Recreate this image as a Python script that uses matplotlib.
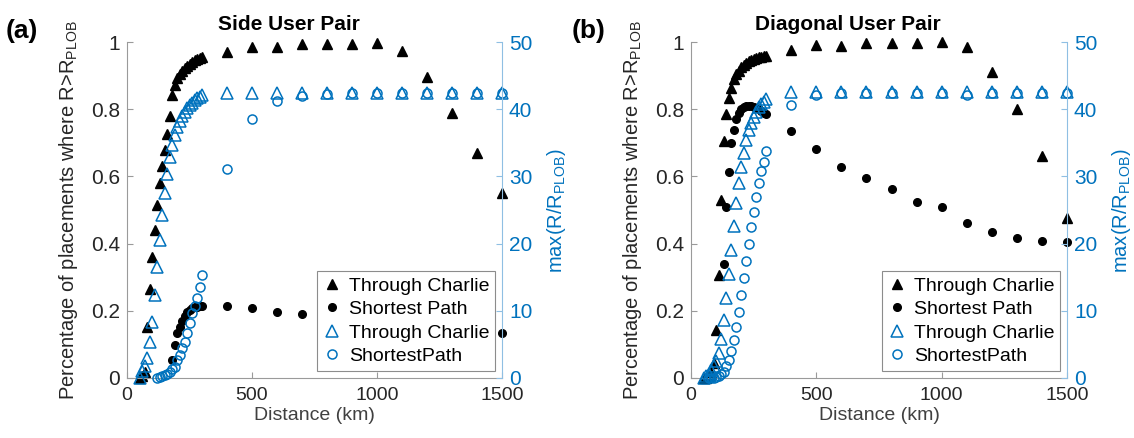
import numpy as np
import matplotlib
matplotlib.use('Agg')
import matplotlib.pyplot as plt

nan = np.nan

# ---------------- data ----------------
distance = [50, 60, 70, 80, 90, 100, 110, 120, 130, 140, 150, 160, 170, 180, 190,
            200, 210, 220, 230, 240, 250, 260, 270, 280, 290, 300,
            400, 500, 600, 700, 800, 900, 1000, 1100, 1200, 1300, 1400, 1500]

# panel (a) Side User Pair -- left axis (fraction)
a_charlie = [0.0, 0.005, 0.018, 0.15, 0.265, 0.36, 0.44, 0.515, 0.58, 0.63, 0.68, 0.727, 0.78,
             0.843, 0.873, 0.893, 0.905, 0.915, 0.924, 0.93, 0.936, 0.941, 0.946, 0.95, 0.953, 0.957,
             0.972, 0.987, 0.987, 0.995, 0.995, 0.995, 0.997, 0.975, 0.898, 0.79, 0.671, 0.55]
a_shortest = [nan, nan, nan, nan, nan, nan, nan, nan, nan, nan, nan, nan, nan,
              0.053, 0.097, 0.132, 0.152, 0.17, 0.185, 0.195, 0.202, 0.207, 0.21, 0.212, 0.213, 0.214,
              0.214, 0.209, 0.196, 0.19, nan, nan, nan, nan, nan, nan, nan, 0.134]
# panel (a) -- right axis max(R/R_PLOB)
a_charlie_max = [0.0, 1.0, 1.75, 2.9, 5.35, 8.35, 12.35, 16.45, 20.5, 24.25, 27.6, 30.35, 32.95,
                 34.7, 36.2, 37.4, 38.25, 39.0, 39.6, 40.15, 40.6, 41.0, 41.35, 41.65, 41.9, 42.15,
                 42.4, 42.4, 42.4, 42.4, 42.4, 42.4, 42.4, 42.4, 42.4, 42.4, 42.4, 42.4]
a_shortest_max = [nan, nan, nan, nan, nan, nan, nan, 0.0, 0.1, 0.25, 0.4, 0.6, 0.9,
                  1.25, 1.65, 2.65, 3.4, 4.4, 5.35, 6.6, 8.1, 9.6, 10.65, 11.85, 13.55, 15.3,
                  31.1, 38.6, 41.2, 42.0, 42.3, 42.4, 42.4, 42.4, 42.4, 42.4, 42.4, 42.4]

# panel (b) Diagonal User Pair -- left axis
b_charlie = [0.0, 0.0, 0.005, 0.015, 0.043, 0.142, 0.306, 0.53, 0.706, 0.787, 0.833, 0.863, 0.89,
             0.905, 0.915, 0.925, 0.932, 0.938, 0.943, 0.947, 0.95, 0.953, 0.955, 0.957, 0.958, 0.958,
             0.977, 0.992, 0.99, 0.999, 0.999, 0.999, 1.0, 0.986, 0.91, 0.80, 0.661, 0.475]
b_shortest = [nan, nan, nan, nan, nan, nan, nan, nan, 0.338, 0.51, 0.612, 0.70, 0.74,
              0.77, 0.79, 0.80, 0.806, 0.809, 0.81, 0.81, 0.808, 0.804, 0.80, 0.796, 0.79, 0.785,
              0.737, 0.682, 0.629, 0.596, 0.562, 0.524, 0.508, 0.462, 0.435, 0.418, 0.408, 0.404]
# panel (b) -- right axis
b_charlie_max = [0.0, 0.25, 0.6, 1.1, 1.75, 2.5, 3.65, 5.7, 8.6, 11.95, 15.4, 19.05, 22.6,
                 26.0, 29.0, 31.45, 33.45, 35.45, 36.95, 37.9, 38.9, 39.65, 40.3, 40.8, 41.15, 41.5,
                 42.6, 42.6, 42.6, 42.6, 42.6, 42.6, 42.6, 42.6, 42.6, 42.6, 42.6, 42.6]
b_shortest_max = [nan, nan, 0.0, 0.0, 0.0, 0.1, 0.25, 0.5, 0.9, 1.7, 2.7, 4.0, 5.65,
                  7.6, 9.8, 12.3, 14.9, 17.45, 20.0, 22.45, 24.75, 27.0, 29.0, 30.8, 32.2, 33.85,
                  40.7, 42.1, 42.4, 42.4, 42.4, 42.4, 42.4, 42.1, 42.4, 42.4, 42.4, 42.4]

legend_labels = ['Through Charlie', 'Shortest Path', 'Through Charlie', 'ShortestPath']
x_ticks = [0, 500, 1000, 1500]
left_ticks = [0, 0.2, 0.4, 0.6, 0.8, 1]
left_ticklabels = ['0', '0.2', '0.4', '0.6', '0.8', '1']
right_ticks = [0, 10, 20, 30, 40, 50]

# ---------------- style ----------------
plt.rcParams['font.family'] = ['Liberation Sans', 'DejaVu Sans']
plt.rcParams['mathtext.fontset'] = 'custom'
plt.rcParams['mathtext.rm'] = 'Liberation Sans'
plt.rcParams['mathtext.it'] = 'Liberation Sans:italic'
plt.rcParams['mathtext.bf'] = 'Liberation Sans:bold'

BLUE = '#0072BD'
TEXT = '#262626'
AXGRAY = '#9a9a9a'
AXBLUE = '#8fbfe3'

fig = plt.figure(figsize=(11.34, 4.38), dpi=100)


def panel(rect, charlie, shortest, charlie_max, shortest_max, title, title_x, tag, tag_x):
    ax = fig.add_axes(rect)
    ax2 = ax.twinx()
    h1, = ax.plot(distance, charlie, ls='none', marker='^', ms=6.5, color='k', clip_on=False)
    h2, = ax.plot(distance, shortest, ls='none', marker='o', ms=5.5, color='k', clip_on=False)
    h3, = ax2.plot(distance, charlie_max, ls='none', marker='^', ms=8, mfc='none', mec=BLUE,
                   mew=1.1, clip_on=False)
    h4, = ax2.plot(distance, shortest_max, ls='none', marker='o', ms=6.5, mfc='none', mec=BLUE,
                   mew=1.1, clip_on=False)
    ax.set_xlim(0, 1500)
    ax.set_ylim(0, 1)
    ax2.set_ylim(0, 50)
    ax.set_xticks(x_ticks)
    ax.set_yticks(left_ticks)
    ax.set_yticklabels(left_ticklabels)
    ax2.set_yticks(right_ticks)

    for s in ['top', 'right']:
        ax.spines[s].set_visible(False)
    for s in ['top', 'left', 'bottom']:
        ax2.spines[s].set_visible(False)
    ax.spines['left'].set_color(AXGRAY)
    ax.spines['bottom'].set_color(AXGRAY)
    ax2.spines['right'].set_color(AXBLUE)
    for sp in list(ax.spines.values()) + list(ax2.spines.values()):
        sp.set_linewidth(0.8)

    ax.tick_params(axis='y', direction='in', length=4, width=0.8, color=AXGRAY, labelsize=15,
                   labelcolor=TEXT, pad=5)
    ax.tick_params(axis='x', direction='in', length=4, width=0.8, color=AXGRAY, labelsize=14,
                   labelcolor=TEXT, pad=7)
    ax2.tick_params(direction='in', length=4, width=0.8, color=AXBLUE, labelsize=15,
                    labelcolor=BLUE, pad=5)

    ax.set_xlabel('Distance (km)', fontsize=14, color='#404040', labelpad=2)
    ax.set_ylabel(r'Percentage of placements where R>R$_{\mathrm{PLOB}}$', fontsize=14.5,
                  color=TEXT, labelpad=8)
    ax2.set_ylabel(r'max(R/R$_{\mathrm{PLOB}}$)', fontsize=14.5, color=BLUE, labelpad=9)

    ax.text(title_x, 1.025, title, transform=ax.transAxes, ha='center', va='bottom',
            fontsize=15, fontweight='bold', color='k')
    fig.text(tag_x, 0.93, tag, ha='left', va='center', fontsize=19, fontweight='bold', color='k')

    leg = ax2.legend([h1, h2, h3, h4], legend_labels, loc='lower right', fontsize=14,
                     frameon=True, fancybox=False, framealpha=1, edgecolor='#8c8c8c',
                     borderaxespad=0.35, borderpad=0.3, labelspacing=0.3,
                     handlelength=1.0, handletextpad=0.35)
    leg.get_frame().set_linewidth(0.8)
    leg.set_zorder(10)
    return ax, ax2


panel([127 / 1134, 60.3 / 438, 375 / 1134, 335.4 / 438],
      a_charlie, a_shortest, a_charlie_max, a_shortest_max,
      'Side User Pair', 0.432, '(a)', 6 / 1134)
panel([691 / 1134, 60.3 / 438, 376 / 1134, 335.4 / 438],
      b_charlie, b_shortest, b_charlie_max, b_shortest_max,
      'Diagonal User Pair', 0.418, '(b)', 572 / 1134)

fig.savefig('out.png', dpi=100)
